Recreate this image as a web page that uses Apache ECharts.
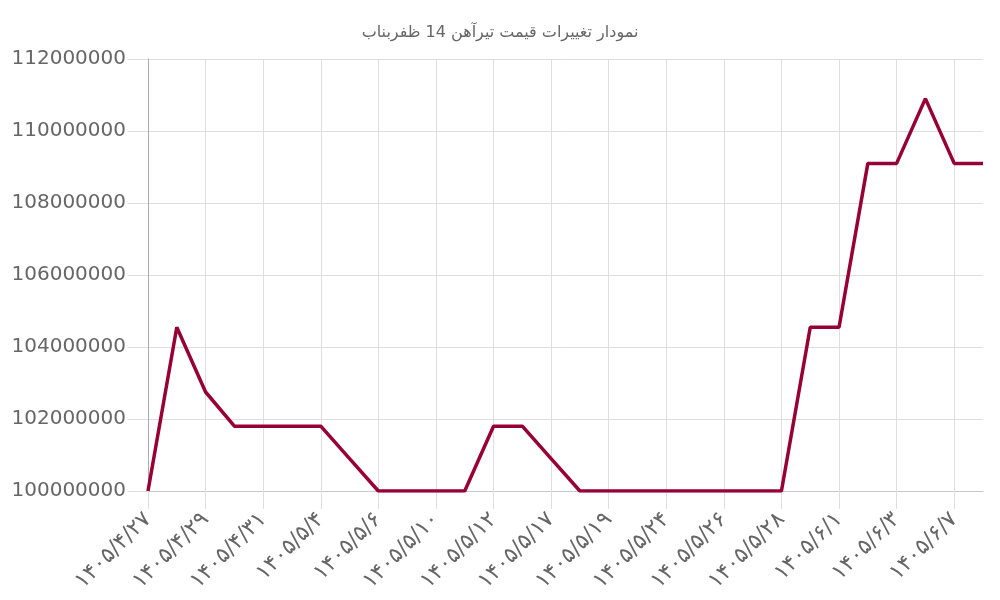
<!DOCTYPE html>
<html>
<head>
<meta charset="utf-8">
<script src="https://cdn.jsdelivr.net/npm/echarts@6/dist/echarts.min.js"></script>
<style>
  html, body { margin: 0; padding: 0; background: #fff; }
  #chart { width: 1000px; height: 600px; }
</style>
</head>
<body>
<div id="chart"></div>
<script>
// data
var chartTitle = 'نمودار تغییرات قیمت تیرآهن 14 ظفربناب';
var dates = [
  '۱۴۰۵/۴/۲۷', '۱۴۰۵/۴/۲۸', '۱۴۰۵/۴/۲۹', '۱۴۰۵/۴/۳۰', '۱۴۰۵/۴/۳۱',
  '۱۴۰۵/۵/۳', '۱۴۰۵/۵/۴', '۱۴۰۵/۵/۵', '۱۴۰۵/۵/۶', '۱۴۰۵/۵/۸',
  '۱۴۰۵/۵/۱۰', '۱۴۰۵/۵/۱۱', '۱۴۰۵/۵/۱۲', '۱۴۰۵/۵/۱۴', '۱۴۰۵/۵/۱۷',
  '۱۴۰۵/۵/۱۸', '۱۴۰۵/۵/۱۹', '۱۴۰۵/۵/۲۱', '۱۴۰۵/۵/۲۴', '۱۴۰۵/۵/۲۵',
  '۱۴۰۵/۵/۲۶', '۱۴۰۵/۵/۲۷', '۱۴۰۵/۵/۲۸', '۱۴۰۵/۵/۳۱', '۱۴۰۵/۶/۱',
  '۱۴۰۵/۶/۲', '۱۴۰۵/۶/۳', '۱۴۰۵/۶/۵', '۱۴۰۵/۶/۷', '۱۴۰۵/۶/۸'
];
var prices = [
  100000000, 104550000, 102750000, 101800000, 101800000,
  101800000, 101800000, 100900000, 100000000, 100000000,
  100000000, 100000000, 101800000, 101800000, 100900000,
  100000000, 100000000, 100000000, 100000000, 100000000,
  100000000, 100000000, 100000000, 104550000, 104550000,
  109100000, 109100000, 110900000, 109100000, 109100000
];
var yMin = 100000000, yMax = 112000000, yStep = 2000000;

var gridColor = '#dedede';
var textColor = '#666';

var h = echarts.init(document.getElementById('chart'));
var e = {
  animation: false,
  title: {
    text: chartTitle,
    left: 'center',
    top: 20,
    textStyle: { fontSize: 16, fontWeight: 'normal', color: textColor, fontFamily: 'DejaVu Sans' }
  },
  grid: { left: 148, right: 17, top: 59, bottom: 109 },
  xAxis: {
    type: 'category',
    data: dates,
    boundaryGap: false,
    axisLine: { lineStyle: { color: '#c8c8c8' } },
    axisTick: { interval: 1, length: 18, lineStyle: { color: gridColor } },
    splitLine: { show: true, interval: 1, lineStyle: { color: gridColor } },
    axisLabel: {
      interval: 1, rotate: 45, margin: 25,
      fontSize: 22, color: textColor, fontFamily: 'DejaVu Sans'
    }
  },
  yAxis: {
    type: 'value',
    min: yMin, max: yMax, interval: yStep,
    axisLine: { show: true, lineStyle: { color: '#aaaaaa' } },
    axisTick: { show: true, length: 20, lineStyle: { color: gridColor } },
    splitLine: { lineStyle: { color: gridColor } },
    axisLabel: {
      margin: 22, fontSize: 20, color: textColor, fontFamily: 'DejaVu Sans',
      formatter: function (v) { return String(v); }
    }
  },
  series: [{
    type: 'line',
    data: prices,
    showSymbol: false,
    lineStyle: { color: '#970035', width: 3.5 },
    itemStyle: { color: '#970035' }
  }]
};
h.setOption(e);
window.addEventListener('resize', h.resize);
</script>
</body>
</html>
